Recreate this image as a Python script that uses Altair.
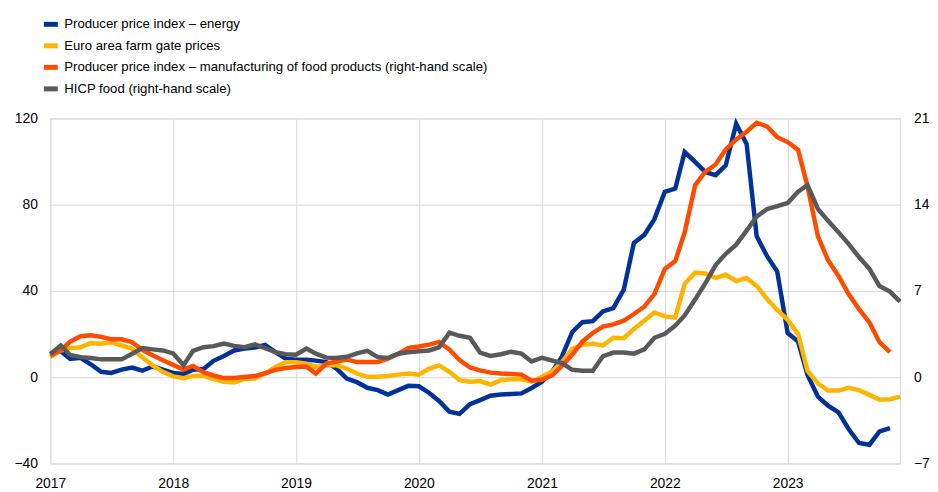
import altair as alt
import pandas as pd

months = pd.date_range("2017-01-01", "2023-12-01", freq="MS").strftime("%Y-%m-%d").tolist()

names = [
    "Producer price index – energy",
    "Euro area farm gate prices",
    "Producer price index – manufacturing of food products (right-hand scale)",
    "HICP food (right-hand scale)",
]
colors = ["#003299", "#ffb400", "#ff4b00", "#595959"]

# left-hand scale (annual % change)
ppi_energy = [11, 12, 8.5, 9, 6, 2.5, 2, 3.5, 4.5, 3,
              5, 3.5, 2, 1.5, 3.5, 3.8, 7.6, 9.8, 12.4, 13.3,
              13.8, 15, 11.6, 8.6, 8.1, 8.1, 7.7, 7, 4, -0.6,
              -2.3, -4.9, -6, -8, -6, -4, -4.2, -7.3, -11, -16,
              -17, -12.5, -10.6, -8.6, -8, -7.8, -7.5, -5, -2.1, 2.8,
              9.5, 21, 25.5, 26, 30.5, 32, 40.6, 62.2, 66, 73.3,
              86, 87.5, 104.4, 99.8, 95.2, 93.7, 98.2, 117.5, 108.2, 65.3,
              56.1, 49, 20.5, 16.5, 1, -9, -13.2, -16.3, -24, -30.5,
              -31.3, -25.1, -23.6]
farm_gate = [9.3, 12.4, 13.5, 13.9, 15.9, 15.5, 16.2, 14.7, 13.2, 9.3,
             5.5, 2.5, 0.4, -0.5, 0.6, 0.6, -0.9, -2.1, -2.5, -0.8,
             -0.6, 1.7, 4.8, 7, 7, 6.3, 4.8, 5.5, 5.5, 4,
             1.7, 0.2, 0.2, 0.6, 1.2, 1.7, 1.2, 4, 5.5, 2.5,
             -1.4, -2.1, -1.8, -3.4, -1.4, -0.9, -0.9, -2.1, 0.2, 2.8,
             7, 13.2, 15, 15.5, 14.7, 18.3, 18.1, 22.4, 26.2, 30,
             28.2, 27.7, 43.3, 48.5, 48.1, 46.1, 47.5, 44.6, 46, 42.3,
             36.2, 31.2, 26.6, 20.1, 2.9, -2.9, -6.2, -6.2, -4.9, -6,
             -8.2, -10.4, -10.2, -9]
# right-hand scale (annual % change)
ppi_food = [1.75, 2.19, 2.89, 3.33, 3.41, 3.27, 3.08, 3.08, 2.84, 2.22,
            1.79, 1.37, 1.00, 0.61, 0.91, 0.40, 0.14, -0.07, -0.07, 0.02,
            0.09, 0.32, 0.60, 0.75, 0.82, 0.86, 0.30, 1.10, 1.26, 1.44,
            1.23, 1.23, 1.23, 1.51, 1.91, 2.38, 2.49, 2.64, 2.87, 2.24,
            1.40, 0.79, 0.56, 0.37, 0.30, 0.26, 0.21, -0.28, -0.21, 0.16,
            0.91, 1.84, 2.89, 3.59, 4.11, 4.29, 4.59, 5.13, 5.72, 6.74,
            8.79, 9.42, 11.76, 15.58, 16.66, 17.26, 18.48, 19.29, 19.92, 20.65,
            20.34, 19.48, 19.08, 18.45, 15.49, 11.43, 9.49, 8.21, 6.74, 5.53,
            4.45, 2.84, 2.03]
hicp_food = [1.89, 2.57, 1.80, 1.63, 1.56, 1.45, 1.45, 1.45, 1.91, 2.36,
             2.26, 2.17, 1.93, 0.98, 2.14, 2.43, 2.52, 2.73, 2.54, 2.43,
             2.66, 2.35, 2.03, 1.86, 1.82, 2.33, 1.91, 1.59, 1.56, 1.66,
             1.93, 2.14, 1.63, 1.56, 1.91, 2.03, 2.10, 2.17, 2.43, 3.61,
             3.36, 3.20, 2.00, 1.73, 1.86, 2.07, 1.91, 1.28, 1.58, 1.35,
             1.14, 0.60, 0.53, 0.53, 1.70, 2.00, 2.00, 1.91, 2.26, 3.20,
             3.52, 4.18, 5.01, 6.30, 7.60, 9.10, 10.01, 10.76, 11.90, 13.04,
             13.65, 13.88, 14.14, 15.05, 15.58, 13.65, 12.69, 11.76, 10.82, 9.75,
             8.80, 7.40, 6.95, 6.14]

left_ticks = [-40, 0, 40, 80, 120]
right_ticks = [-7, 0, 7, 14, 21]
years = [2017, 2018, 2019, 2020, 2021, 2022, 2023]


def frame(name, vals):
    return pd.DataFrame({"date": months[:len(vals)], "value": vals, "series": name})


left_df = pd.concat([frame(names[0], ppi_energy), frame(names[1], farm_gate)])
right_df = pd.concat([frame(names[2], ppi_food), frame(names[3], hicp_food)])

FONT = "Liberation Sans"

x = alt.X(
    "date:T",
    title=None,
    scale=alt.Scale(domain=[alt.DateTime(year=2017, month=1, date=1),
                            alt.DateTime(year=2023, month=12, date=1)]),
    axis=alt.Axis(values=[alt.DateTime(year=y, month=1, date=1) for y in years],
                  format="%Y", labelPadding=13, labelFontSize=14, labelColor="#000000",
                  grid=True, gridColor="#d9d9d9", domain=False, ticks=False,
                  labelFlush=False),
)

color = alt.Color(
    "series:N",
    scale=alt.Scale(domain=names, range=colors),
    legend=alt.Legend(
        title=None, orient="none", legendX=-9, legendY=-104.4, direction="vertical",
        symbolType="stroke", symbolStrokeWidth=5, symbolSize=196,
        labelFont=FONT, labelFontSize=13.3, labelColor="#000000", labelLimit=800,
        labelOffset=4, rowPadding=0.7, padding=0,
    ),
)

left = alt.Chart(left_df).mark_line(strokeWidth=4.5).encode(
    x=x,
    y=alt.Y("value:Q", title=None, scale=alt.Scale(domain=[-40, 120], nice=False, zero=False),
            axis=alt.Axis(orient="left", values=left_ticks, labelPadding=13, labelFontSize=14,
                          labelColor="#000000", grid=True, gridColor="#d9d9d9",
                          domain=False, ticks=False)),
    color=color,
)

right = alt.Chart(right_df).mark_line(strokeWidth=4.5).encode(
    x=x,
    y=alt.Y("value:Q", title=None, scale=alt.Scale(domain=[-7, 21], nice=False, zero=False),
            axis=alt.Axis(orient="right", values=right_ticks, labelPadding=13.5, labelFontSize=14,
                          labelColor="#000000", grid=False, domain=False, ticks=False)),
    color=color,
)

chart = alt.layer(left, right).resolve_scale(y="independent").properties(
    width=857,
    height=348,
    autosize=alt.AutoSizeParams(type="none"),
    padding={"left": 42.7, "top": 109.3, "right": 30.2, "bottom": 26},
).configure(font=FONT).configure_view(stroke="#d9d9d9", strokeWidth=1)

chart.save("out.html", embed_options={"renderer": "svg", "actions": False})
